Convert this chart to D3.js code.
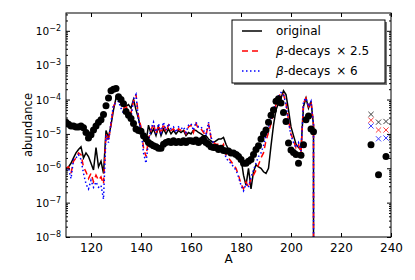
<!DOCTYPE html>
<html>
<head>
<meta charset="utf-8">
<script src="https://cdn.jsdelivr.net/npm/d3@7"></script>
<style>
  body { margin: 0; background: #fff; }
  text { font-family: "DejaVu Sans", sans-serif; fill: #000; }
</style>
</head>
<body>
<div id="chart"></div>
<script>
// mass numbers of the calculated curves
const massNumbers = [
  110, 111, 112, 113, 114, 115, 116, 117, 118, 119,
  120, 121, 122, 123, 124, 125, 126, 127, 128, 129,
  130, 131, 132, 133, 134, 135, 136, 137, 138, 139,
  140, 141, 142, 143, 144, 145, 146, 147, 148, 149,
  150, 151, 152, 153, 154, 155, 156, 157, 158, 159,
  160, 161, 162, 163, 164, 165, 166, 167, 168, 169,
  170, 171, 172, 173, 174, 175, 176, 177, 178, 179,
  180, 181, 182, 183, 184, 185, 186, 187, 188, 189,
  190, 191, 192, 193, 194, 195, 196, 197, 198, 199,
  200, 201, 202, 203, 204, 205, 206, 207, 208, 209,
  210
];

const original = [
  1.0e-6, 1.1e-6, 1.4e-6, 2.0e-6, 2.8e-6, 3.5e-6, 4.2e-6, 2.0e-6, 2.8e-6, 2.2e-6,
  1.4e-6, 8.9e-7, 4.0e-6, 1.1e-6, 1.6e-6, 7.1e-7, 1.26e-5, 7.9e-6, 1.8e-5, 5.0e-5,
  1.1e-4, 1.3e-4, 1.05e-4, 7.9e-5, 6.3e-5, 7.1e-5, 5.6e-5, 1.0e-4, 5.0e-5, 2.8e-5,
  1.26e-5, 7.9e-6, 5.6e-6, 1.8e-5, 1.0e-5, 1.4e-5, 8.9e-6, 1.6e-5, 8.9e-6, 1.4e-5,
  1.0e-5, 1.4e-5, 1.0e-5, 1.26e-5, 1.0e-5, 1.26e-5, 1.1e-5, 1.26e-5, 8.9e-6, 1.1e-5,
  1.0e-5, 1.3e-5, 1.26e-5, 1.1e-5, 1.0e-5, 8.9e-6, 8.9e-6, 7.1e-6, 6.3e-6, 5.6e-6,
  6.3e-6, 7.1e-6, 7.1e-6, 7.9e-6, 5.0e-6, 3.5e-6, 3.2e-6, 2.8e-6, 2.5e-6, 2.8e-6,
  2.0e-6, 6.3e-7, 3.2e-7, 1.0e-6, 2.5e-7, 7.9e-7, 1.26e-6, 1.1e-6, 1.0e-6, 7.9e-7,
  7.1e-7, 1.0e-6, 4.5e-6, 1.8e-5, 5.0e-5, 7.9e-5, 1.1e-4, 1.8e-4, 1.4e-4, 5.0e-5,
  1.6e-5, 8.9e-6, 5.0e-6, 4.0e-6, 3.5e-6, 6.3e-5, 1.1e-4, 5.6e-5, 8.9e-5, 1.8e-5,
  0
];

const decays25 = [
  1.0e-6, 1.1e-6, 7.1e-7, 1.6e-6, 2.0e-6, 2.8e-6, 2.5e-6, 1.1e-6, 7.9e-7, 5.0e-7,
  7.1e-7, 4.0e-7, 6.3e-7, 4.5e-7, 5.6e-7, 3.5e-7, 1.0e-5, 6.3e-6, 2.0e-5, 6.3e-5,
  8.9e-5, 1.0e-4, 7.9e-5, 5.6e-5, 6.3e-5, 4.5e-5, 4.0e-5, 8.9e-5, 1.4e-4, 3.2e-5,
  1.6e-5, 4.0e-6, 2.2e-6, 7.1e-6, 1.26e-5, 2.0e-5, 1.0e-5, 1.8e-5, 1.0e-5, 2.0e-5,
  1.1e-5, 1.8e-5, 1.26e-5, 1.4e-5, 1.1e-5, 1.4e-5, 1.26e-5, 1.4e-5, 1.0e-5, 1.6e-5,
  1.8e-5, 1.1e-5, 2.0e-5, 1.4e-5, 1.4e-5, 1.1e-5, 8.9e-6, 2.0e-5, 7.9e-6, 5.6e-6,
  5.0e-6, 5.0e-6, 4.0e-6, 5.0e-6, 2.5e-6, 2.0e-6, 1.6e-6, 1.26e-6, 1.0e-6, 6.3e-7,
  3.5e-7, 2.5e-7, 4.0e-7, 2.8e-7, 5.0e-7, 6.3e-7, 8.9e-7, 1.26e-6, 2.0e-6, 2.8e-6,
  6.3e-6, 1.1e-5, 2.0e-5, 4.0e-5, 7.1e-5, 1.1e-4, 1.6e-4, 1.4e-4, 7.9e-5, 2.5e-5,
  1.0e-5, 6.3e-6, 4.0e-6, 5.0e-6, 2.8e-6, 7.9e-5, 1.1e-4, 6.3e-5, 8.9e-5, 1.8e-5,
  0
];

const decays6 = [
  8.9e-7, 1.0e-6, 5.0e-7, 1.8e-6, 2.0e-6, 2.5e-6, 1.8e-6, 7.1e-7, 3.5e-7, 2.5e-7,
  4.5e-7, 2.8e-7, 4.0e-7, 2.8e-7, 3.2e-7, 1.26e-7, 8.9e-6, 5.6e-6, 2.2e-5, 7.1e-5,
  7.9e-5, 8.9e-5, 5.6e-5, 4.0e-5, 5.0e-5, 4.0e-5, 2.8e-5, 1.0e-4, 1.4e-4, 2.5e-5,
  1.4e-5, 2.8e-6, 1.4e-6, 6.3e-6, 1.4e-5, 2.2e-5, 1.0e-5, 2.0e-5, 1.1e-5, 2.2e-5,
  1.26e-5, 2.0e-5, 1.4e-5, 1.6e-5, 1.1e-5, 1.6e-5, 1.4e-5, 1.6e-5, 1.1e-5, 1.8e-5,
  2.0e-5, 1.26e-5, 2.2e-5, 1.6e-5, 1.6e-5, 1.26e-5, 1.0e-5, 2.2e-5, 7.9e-6, 5.6e-6,
  4.5e-6, 4.5e-6, 3.5e-6, 4.0e-6, 2.0e-6, 1.6e-6, 1.4e-6, 1.1e-6, 8.9e-7, 5.6e-7,
  3.2e-7, 2.2e-7, 3.5e-7, 2.8e-7, 5.6e-7, 8.9e-7, 1.4e-6, 2.2e-6, 2.8e-6, 4.5e-6,
  8.9e-6, 1.6e-5, 2.8e-5, 5.0e-5, 8.9e-5, 1.26e-4, 1.6e-4, 1.4e-4, 7.1e-5, 2.2e-5,
  8.9e-6, 5.6e-6, 4.0e-6, 5.6e-6, 3.2e-6, 8.9e-5, 1.1e-4, 6.3e-5, 8.9e-5, 1.8e-5,
  0
];

// observed abundances (black dots)
const solarMass = [
  110, 111, 112, 113, 114, 115, 116, 117, 118, 119,
  120, 121, 122, 123, 124, 125, 126, 127, 128, 129,
  130, 131, 132, 133, 134, 135, 136, 137, 138, 139,
  140, 141, 142, 143, 144, 145, 146, 147, 148, 149,
  150, 151, 152, 153, 154, 155, 156, 157, 158, 159,
  160, 161, 162, 163, 164, 165, 166, 167, 168, 169,
  170, 171, 172, 173, 174, 175, 176, 177, 178, 179,
  180, 181, 182, 183, 184, 185, 186, 187, 188, 189,
  190, 191, 192, 193, 194, 195, 196, 197, 198, 199,
  200, 201, 202, 203, 204, 205, 206, 207, 208, 209,
  232, 235, 238
];
const solarAbundance = [
  2.2e-5, 1.9e-5, 1.7e-5, 1.7e-5, 1.6e-5, 1.6e-5, 1.7e-5, 1.5e-5, 1.1e-5, 7.6e-6,
  9.5e-6, 1.3e-5, 1.7e-5, 2.2e-5, 2.6e-5, 3.7e-5, 6.6e-5, 1.1e-4, 1.8e-4, 2.0e-4,
  2.1e-4, 1.2e-4, 1.0e-4, 7.6e-5, 4.5e-5, 3.5e-5, 2.8e-5, 2.0e-5, 1.4e-5, 1.26e-5,
  1.2e-5, 8.9e-6, 7.1e-6, 5.6e-6, 5.0e-6, 4.5e-6, 4.2e-6, 3.8e-6, 3.8e-6, 5.0e-6,
  5.6e-6, 6.0e-6, 5.6e-6, 6.3e-6, 5.6e-6, 6.0e-6, 5.6e-6, 6.3e-6, 5.6e-6, 6.3e-6,
  6.3e-6, 6.0e-6, 6.6e-6, 5.6e-6, 6.3e-6, 7.1e-6, 5.6e-6, 5.0e-6, 4.2e-6, 4.0e-6,
  4.0e-6, 3.5e-6, 3.8e-6, 3.3e-6, 3.2e-6, 3.2e-6, 2.8e-6, 2.8e-6, 2.5e-6, 2.2e-6,
  1.8e-6, 1.4e-6, 1.4e-6, 1.6e-6, 1.8e-6, 2.5e-6, 3.5e-6, 4.5e-6, 7.1e-6, 1.0e-5,
  1.3e-5, 2.2e-5, 3.5e-5, 5.0e-5, 8.9e-5, 1.05e-4, 7.9e-5, 4.2e-5, 2.3e-5, 5.4e-6,
  3.4e-6, 2.9e-6, 2.5e-6, 1.4e-6, 2.4e-6, 4.8e-6, 2.6e-5, 3.3e-5, 1.4e-5, 1.15e-5,
  4.8e-6, 6.5e-7, 2.2e-6
];

// actinides (x markers)
const actinideMass = [232, 235, 238];
const actinideOriginal = [3.7e-5, 2.2e-5, 2.3e-5];
const actinideDecays25 = [2.5e-5, 1.3e-5, 1.3e-5];
const actinideDecays6 = [1.7e-5, 7.2e-6, 7.6e-6];

const xTicks = [120, 140, 160, 180, 200, 220, 240];
const yTicks = [1e-8, 1e-7, 1e-6, 1e-5, 1e-4, 1e-3, 1e-2];
const yExponents = ["\u22128", "\u22127", "\u22126", "\u22125", "\u22124", "\u22123", "\u22122"];

const width = 415, height = 280;
const margin = { top: 13, right: 24, bottom: 43, left: 66 };
const plotW = width - margin.left - margin.right;
const plotH = height - margin.top - margin.bottom;

const svg = d3.select("#chart").append("svg")
    .attr("width", width)
    .attr("height", height);

const g = svg.append("g")
    .attr("transform", "translate(" + margin.left + "," + margin.top + ")");

const x = d3.scaleLinear().domain([110, 240]).range([0, plotW]);
const y = d3.scaleLog().domain([1e-8, 0.033]).range([plotH, 0]);

g.append("clipPath").attr("id", "clip")
  .append("rect").attr("width", plotW).attr("height", plotH);

const plot = g.append("g").attr("clip-path", "url(#clip)");

// zero abundance -> far below the axis, gives the vertical drop
const line = d3.line()
    .x((d, i) => x(massNumbers[i]))
    .y(d => y(Math.max(d, 1e-300)));

plot.append("path").datum(original)
    .attr("d", line)
    .attr("fill", "none").attr("stroke", "#000").attr("stroke-width", 1.5);
plot.append("path").datum(decays25)
    .attr("d", line)
    .attr("fill", "none").attr("stroke", "#ff0000").attr("stroke-width", 1.5)
    .attr("stroke-dasharray", "6,4");
plot.append("path").datum(decays6)
    .attr("d", line)
    .attr("fill", "none").attr("stroke", "#0000ff").attr("stroke-width", 1.5)
    .attr("stroke-dasharray", "1.5,2.5");

plot.selectAll(".dot")
    .data(solarAbundance)
    .enter().append("circle")
    .attr("class", "dot")
    .attr("cx", (d, i) => x(solarMass[i]))
    .attr("cy", d => y(d))
    .attr("r", 3.5)
    .attr("fill", "#000");

// x markers
function crosses(values, color) {
    const s = 2.6;
    values.forEach((v, i) => {
        const cx = x(actinideMass[i]), cy = y(v);
        plot.append("path")
            .attr("d", `M${cx - s},${cy - s}L${cx + s},${cy + s}M${cx - s},${cy + s}L${cx + s},${cy - s}`)
            .attr("stroke", color).attr("stroke-width", 1).attr("opacity", 0.75);
    });
}
crosses(actinideOriginal, "#000");
crosses(actinideDecays25, "#ff0000");
crosses(actinideDecays6, "#0000ff");

// axes: ticks point inward on all four sides
const minorTicks = y.ticks().filter(d => yTicks.indexOf(d) < 0);

g.append("g")
    .attr("transform", "translate(0," + plotH + ")")
    .call(d3.axisBottom(x).tickValues(xTicks).tickSizeInner(-4).tickSizeOuter(0).tickPadding(6))
    .call(a => a.select(".domain").remove())
    .call(a => a.selectAll("text").attr("font-size", 12).attr("font-family", "DejaVu Sans"));

g.append("g")
    .call(d3.axisTop(x).tickValues(xTicks).tickSizeInner(-4).tickSizeOuter(0).tickFormat(""))
    .call(a => a.select(".domain").remove());

[["left", 0], ["right", plotW]].forEach(([side, pos]) => {
    const make = side === "left" ? d3.axisLeft : d3.axisRight;
    g.append("g").attr("transform", "translate(" + pos + ",0)")
        .call(make(y).tickValues(yTicks).tickSizeInner(-4).tickSizeOuter(0).tickFormat(""))
        .call(a => a.select(".domain").remove());
    g.append("g").attr("transform", "translate(" + pos + ",0)")
        .call(make(y).tickValues(minorTicks).tickSizeInner(-2).tickSizeOuter(0).tickFormat(""))
        .call(a => a.select(".domain").remove());
});

// y tick labels as 10^n
yTicks.forEach((t, i) => {
    const lbl = g.append("text")
        .attr("x", -5)
        .attr("y", y(t))
        .attr("dy", "0.4em")
        .attr("text-anchor", "end")
        .attr("font-size", 10.5);
    lbl.append("tspan").text("10");
    lbl.append("tspan").attr("dy", "-0.5em").attr("font-size", 8).text(yExponents[i]);
});

g.append("rect")
    .attr("width", plotW).attr("height", plotH)
    .attr("fill", "none").attr("stroke", "#000").attr("stroke-width", 1);

g.append("text")
    .attr("x", plotW / 2).attr("y", plotH + 26)
    .attr("text-anchor", "middle").attr("font-size", 12)
    .text("A");

g.append("text")
    .attr("transform", "translate(" + (-34) + "," + (plotH / 2) + ") rotate(-90)")
    .attr("text-anchor", "middle").attr("font-size", 11.5)
    .text("abundance");

// legend
const legend = svg.append("g").attr("transform", "translate(232,20)");
legend.append("rect").attr("x", 2).attr("y", 2).attr("width", 153).attr("height", 63).attr("fill", "#777");
legend.append("rect").attr("width", 153).attr("height", 63)
    .attr("fill", "#fff").attr("stroke", "#000").attr("stroke-width", 1);

const legendItems = [
    { color: "#000", dash: null, label: ["", "original", ""] },
    { color: "#ff0000", dash: "6,4", label: ["\u03b2", "-decays ", "\u00d7 2.5"] },
    { color: "#0000ff", dash: "1.5,2.5", label: ["\u03b2", "-decays ", "\u00d7 6"] }
];
legendItems.forEach((d, i) => {
    const ly = 11 + i * 20;
    legend.append("line")
        .attr("x1", 10).attr("x2", 30).attr("y1", ly).attr("y2", ly)
        .attr("stroke", d.color).attr("stroke-width", 1.5)
        .attr("stroke-dasharray", d.dash);
    const t = legend.append("text")
        .attr("x", 44).attr("y", ly).attr("dy", "0.36em")
        .attr("font-size", 12);
    if (d.label[0]) t.append("tspan").attr("font-style", "italic").text(d.label[0]);
    t.append("tspan").text(d.label[1]);
    if (d.label[2]) t.append("tspan").attr("dx", 2).text(d.label[2]);
});
</script>
</body>
</html>
